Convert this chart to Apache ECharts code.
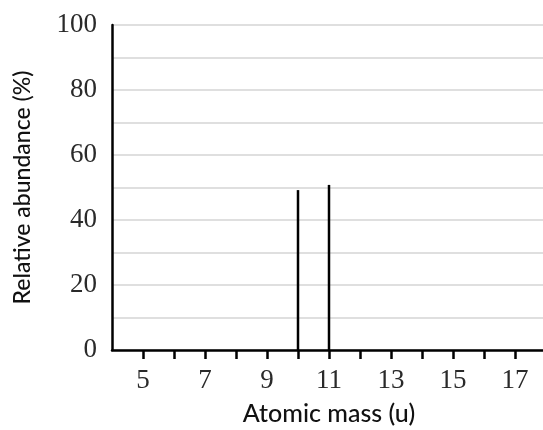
<!DOCTYPE html>
<html>
<head>
<meta charset="utf-8">
<script src="https://cdn.jsdelivr.net/npm/echarts@6/dist/echarts.min.js"></script>
<style>html,body{margin:0;padding:0;background:#fff}#c{width:543px;height:430px}</style>
</head>
<body>
<div id="c"></div>
<script>
var masses = [10, 11];
var abundances = [49.2, 50.8];
var xTickLabels = [5, 7, 9, 11, 13, 15, 17];
var xTicks = [5, 6, 7, 8, 9, 10, 11, 12, 13, 14, 15, 16, 17];
var yTickLabels = [0, 20, 40, 60, 80, 100];

var chart = echarts.init(document.getElementById('c'));
var serif = '"Liberation Serif", "DejaVu Serif", serif';
chart.setOption({
  animation: false,
  grid: { left: 112, right: -3, top: 25, bottom: 80, containLabel: false, outerBoundsMode: 'none' },
  xAxis: {
    type: 'value', min: 4, max: 18, interval: 1,
    name: 'Atomic mass (u)', nameLocation: 'middle', nameGap: 51,
    nameTextStyle: { fontFamily: 'Lato', fontSize: 25, fontWeight: 500, color: '#111' },
    axisLine: { show: true, onZero: false, lineStyle: { color: '#000', width: 2.5 } },
    axisTick: { show: true, length: 9, lineStyle: { color: '#000', width: 2.5 },
      customValues: xTicks },
    axisLabel: { fontFamily: serif, fontSize: 27, color: '#2a2a2a', margin: 17,
      customValues: xTickLabels },
    splitLine: { show: false }
  },
  yAxis: {
    type: 'value', min: 0, max: 100, interval: 10,
    name: 'Relative abundance (%)', nameLocation: 'middle', nameGap: 78,
    nameTextStyle: { fontFamily: 'Lato', fontSize: 23, fontWeight: 500, color: '#111' },
    axisLine: { show: true, lineStyle: { color: '#000', width: 2.5 } },
    axisTick: { show: false },
    axisLabel: { fontFamily: serif, fontSize: 27, color: '#2a2a2a', margin: 15,
      customValues: yTickLabels },
    splitLine: { show: true, lineStyle: { color: '#d4d4d4', width: 1.5 } }
  },
  series: [{
    type: 'bar', barWidth: 2.5,
    itemStyle: { color: '#000' },
    data: masses.map(function (m, i) { return [m, abundances[i]]; })
  }]
});
</script>
</body>
</html>
